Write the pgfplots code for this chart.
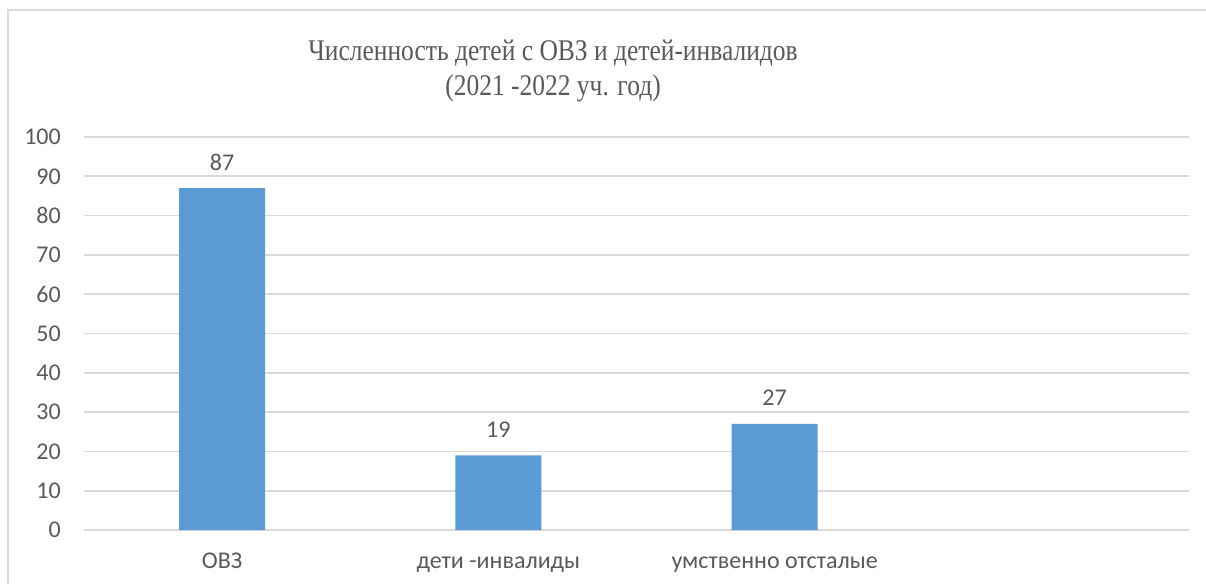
\documentclass[border=0pt]{standalone}
\usepackage{fontspec}
\setmainfont{Carlito}
\newfontfamily\titlefont{Liberation Serif}
\usepackage{pgfplots}
\pgfplotsset{compat=1.18}

\definecolor{barblue}{HTML}{5B9BD5}
\definecolor{gridgray}{HTML}{D9D9D9}
\definecolor{txtgray}{HTML}{595959}

\begin{document}
\begin{tikzpicture}[x=1pt,y=1pt]
% canvas is 1206 x 584, y measured up from the bottom
\path[use as bounding box] (0,0) rectangle (1206,584);
\draw[gridgray, line width=1.5pt] (8,0) -- (8,574) -- (1206,574);

\begin{axis}[
    at={(84pt,54pt)}, anchor=south west,
    scale only axis,
    width=1105pt, height=393pt,
    ybar, bar width=86pt,
    xmin=-0.5, xmax=3.5,
    ymin=0, ymax=100,
    xtick={0,1,2},
    xticklabels={ОВЗ, дети -инвалиды, умственно отсталые},
    ytick={0,10,...,100},
    axis line style={draw=none},
    major tick length=0pt,
    ymajorgrids,
    grid style={gridgray, line width=1.6pt},
    /pgf/number format/assume math mode=true,
    tick label style={font=\fontsize{24}{29}\selectfont, text=txtgray, inner sep=0pt},
    yticklabel style={anchor=east, xshift=-23pt},
    xticklabel style={anchor=base, yshift=-38pt},
    nodes near coords,
    nodes near coords style={font=\fontsize{24}{29}\selectfont, text=txtgray,
        anchor=base, inner sep=0pt, yshift=18pt},
    clip=false,
]
\addplot[fill=barblue, draw=none] coordinates {(0,87) (1,19) (2,27)};
\end{axis}

% the title in the source is set slightly condensed
\node[align=center, text=txtgray, xscale=0.85, transform shape,
      font=\titlefont\fontsize{30}{35}\selectfont]
    at (553,513) {Численность детей с ОВЗ и детей-инвалидов\\(2021 -2022 уч. год)};
\end{tikzpicture}
\end{document}
